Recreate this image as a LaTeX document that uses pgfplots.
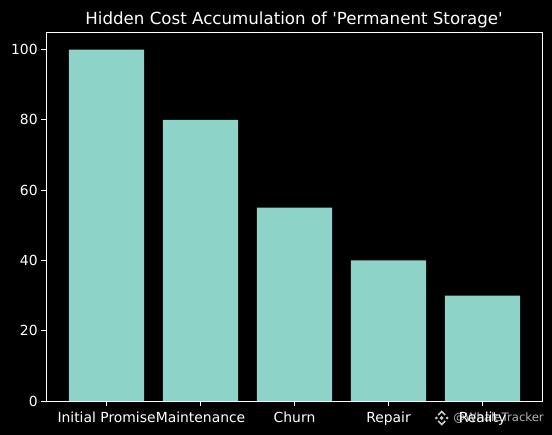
\documentclass[border=0pt]{standalone}
\usepackage{fontspec}
\setmainfont{DejaVu Sans}
\newfontfamily\titlefont{DejaVu Sans}
\usepackage{pgfplots}
\pgfplotsset{compat=1.18}
\definecolor{barteal}{HTML}{8DD3C7}
\begin{document}
% 552x435 px reference, 1px = 0.72bp
\begin{tikzpicture}[x=0.72bp,y=0.72bp]
\useasboundingbox (0,0) rectangle (552,435);
\fill[black] (0,0) rectangle (552,435);
\begin{axis}[
  anchor=south west,
  at={(33.12bp,24.48bp)},
  width=357.12bp,
  height=264.96bp,
  scale only axis,
  xmin=-0.644, xmax=4.633,
  ymin=0, ymax=104.7,
  xtick=data,
  xticklabels={Initial Promise,Maintenance,Churn,Repair,Reality},
  ytick={0,20,40,60,80,100},
  axis line style={draw=white,line width=0.7bp},
  tick style={draw=white,line width=0.7bp},
  tick align=outside,
  major tick length=3.5bp,
  xtick pos=bottom,
  ytick pos=left,
  tick label style={font=\fontsize{10bp}{12bp}\selectfont,text=white},
  xticklabel style={yshift=-1bp},
  yticklabel style={xshift=1bp},
  /pgf/number format/assume math mode=true,
  title={Hidden Cost Accumulation of 'Permanent Storage'},
  title style={font=\titlefont\fontsize{12bp}{14bp}\selectfont,text=white,yshift=-6bp},
  ybar,
  bar width=0.8,
  bar shift=0pt,
]
\addplot[fill=barteal,draw=none] coordinates {(0,100) (1,80) (2,55) (3,40) (4,30)};
\end{axis}
% watermark
\begin{scope}[shift={(441.7,17)},white,opacity=0.8]
\draw[line width=1.2bp] (-3.5,3) -- (0,6.5) -- (3.5,3);
\draw[line width=1.2bp] (-3.5,-3) -- (0,-6.5) -- (3.5,-3);
\fill (0,2) -- (2,0) -- (0,-2) -- (-2,0) -- cycle;
\fill (-6.8,0) -- (-5.3,1.5) -- (-3.8,0) -- (-5.3,-1.5) -- cycle;
\fill (6.8,0) -- (5.3,1.5) -- (3.8,0) -- (5.3,-1.5) -- cycle;
\end{scope}
\node[anchor=east,font=\fontsize{8.4bp}{10bp}\selectfont,text=white,opacity=0.7,inner sep=0pt] at (544,17) {@WhaleTracker};
\end{tikzpicture}
\end{document}
